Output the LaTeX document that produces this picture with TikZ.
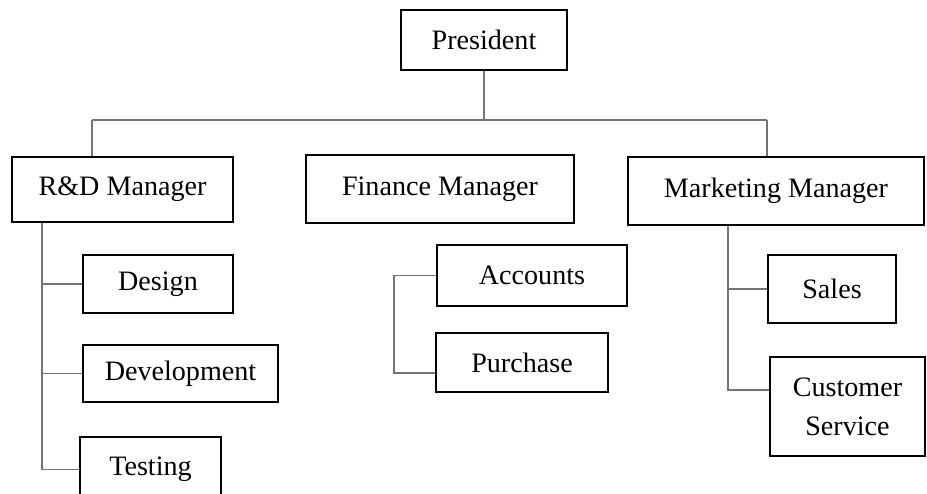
\documentclass[tikz,border=0pt]{standalone}
\usepackage{fontspec}
\setmainfont{Liberation Serif}
\usepackage{tikz}
\usetikzlibrary{positioning}

\begin{document}
\begin{tikzpicture}[
    font=\fontsize{16}{19}\selectfont,
    post/.style={draw, rectangle, line width=1.1pt, inner sep=2pt, align=center},
    link/.style={draw=black!55, line width=0.7pt}
  ]
            \useasboundingbox (0,0) rectangle (18.54,-9.88);

            %% Posts
            % President at the top
            \node[post, minimum width=3.32cm, minimum height=1.2cm] (pres) at (9.68, -0.8) {President};

            % Managers
            \node[post, minimum width=4.42cm, minimum height=1.3cm] (rd) at (2.45, -3.79) {R\&D Manager};
            \node[post, minimum width=5.36cm, minimum height=1.36cm] (fin) at (8.8, -3.78) {Finance Manager};
            \node[post, minimum width=5.92cm, minimum height=1.36cm] (mkt) at (15.52, -3.82) {Marketing Manager};

            % R&D departments
            \node[post, minimum width=3cm, minimum height=1.16cm] (design) at (3.16, -5.68) {Design};
            \node[post, minimum width=3.9cm, minimum height=1.14cm] (dev) at (3.61, -7.47) {Development};
            \node[post, minimum width=2.82cm, minimum height=1.3cm] (test) at (3.01, -9.39) {Testing};

            % Finance departments
            \node[post, minimum width=3.8cm, minimum height=1.22cm] (acc) at (10.64, -5.51) {Accounts};
            \node[post, minimum width=3.44cm, minimum height=1.18cm] (pur) at (10.44, -7.25) {Purchase};

            % Marketing departments
            \node[post, minimum width=2.56cm, minimum height=1.36cm] (sales) at (16.64, -5.78) {Sales};
            \node[post, minimum width=3.1cm, minimum height=1.98cm] (cs) at (16.95, -8.13) {Customer\\[3pt]Service};

            %% Connections
            % President to managers (bus)
            \coordinate (busl) at (1.84, -2.4);
            \coordinate (busr) at (15.34, -2.4);
            \draw[link] (busl) -- (busr);
            \draw[link] (pres.south) -- (pres.south |- busl);
            \draw[link] (busl) -- (rd.north -| busl);
            \draw[link] (busr) -- (mkt.north -| busr);

            % R&D Manager to its departments
            \coordinate (rdspine) at (0.84, 0);
            \draw[link] (rd.south -| rdspine) |- (test.west);
            \draw[link] (rd.south -| rdspine) |- (design.west);
            \draw[link] (rd.south -| rdspine) |- (dev.west);

            % Accounts and Purchase
            \coordinate (finbot) at (7.88, -7.46);
            \draw[link] (acc.west) -| (finbot) -- (pur.west |- finbot);

            % Marketing Manager to its departments
            \coordinate (mktbot) at (14.56, -7.8);
            \draw[link] (mkt.south -| mktbot) -- (mktbot) -- (cs.west |- mktbot);
            \draw[link] (mkt.south -| mktbot) |- (sales.west);

        \end{tikzpicture}
\end{document}
